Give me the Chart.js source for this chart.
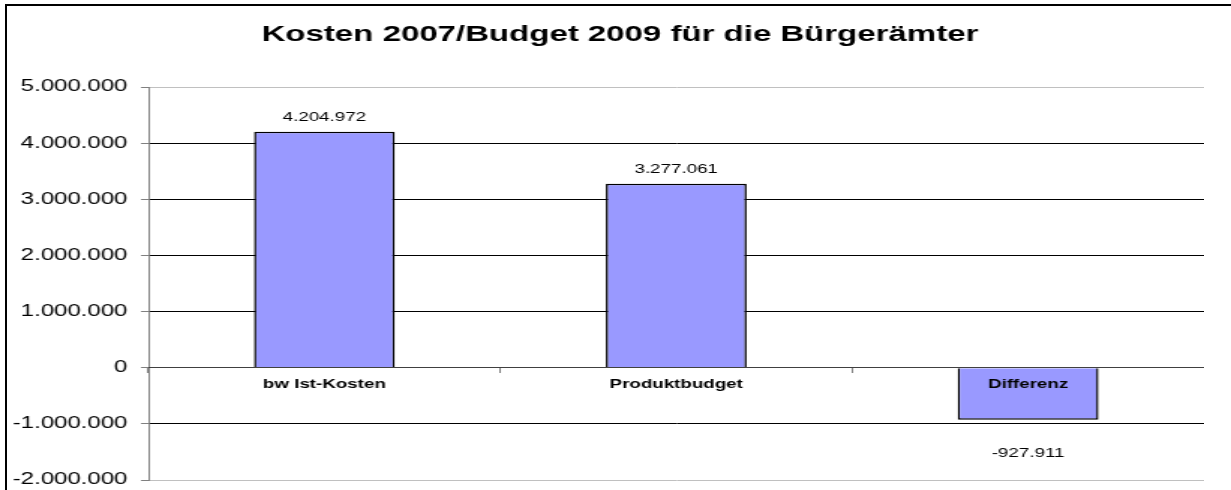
<!DOCTYPE html>
<html>
<head>
<meta charset="utf-8">
<title>Kosten 2007/Budget 2009</title>
<script src="https://cdn.jsdelivr.net/npm/chart.js@4"></script>
<style>
    body { margin: 0; background: #fff; }
    #wrap { position: relative; width: 1231px; height: 490px; overflow: hidden; }
    #frame {
        position: absolute; left: 5px; top: 4px; right: -10px; bottom: -10px;
        border-top: 2px solid #000; border-left: 2px solid #000;
        pointer-events: none;
    }
</style>
</head>
<body>
<div id="wrap">
    <!-- Zeichenfläche 803 breit, per CSS auf 1204 gestreckt wie im Original -->
    <canvas id="chart" width="803" height="490" style="display:block;width:1204px;height:490px"></canvas>
    <div id="frame"></div>
</div>
<script>
const titleText = 'Kosten 2007/Budget 2009 für die Bürgerämter';
const categories = ['bw Ist-Kosten', 'Produktbudget', 'Differenz'];
const values = [4204972, 3277061, -927911];
const yMin = -2000000;
const yMax = 5000000;
const yStep = 1000000;

// deutsche Tausenderpunkte
function fmt(v) {
    const s = Math.abs(Math.round(v)).toString().replace(/\B(?=(\d{3})+(?!\d))/g, '.');
    return (v < 0 ? '-' : '') + s;
}

const fontFamily = "'Liberation Sans', Arial, sans-serif";
Chart.defaults.font.family = fontFamily;
Chart.defaults.color = '#000';

// Werte über/unter den Balken
const valueLabels = {
    id: 'valueLabels',
    afterLayout(chart) {
        // Achsenbeschriftung links nicht abschneiden
        chart.scales.y.left = 0;
    },
    afterDatasetsDraw(chart) {
        const ctx = chart.ctx;
        const meta = chart.getDatasetMeta(0);
        ctx.save();
        ctx.font = '12.5px ' + fontFamily;
        ctx.fillStyle = '#000';
        ctx.textAlign = 'center';
        ctx.textBaseline = 'alphabetic';
        meta.data.forEach((bar, i) => {
            const v = values[i];
            const y = v >= 0 ? bar.y - 11 : bar.y + 37;
            ctx.fillText(fmt(v), bar.x, y);
        });
        ctx.restore();
    }
};

const ctx = document.getElementById('chart').getContext('2d');
const chart = new Chart(ctx, {
    type: 'bar',
    data: {
        labels: categories,
        datasets: [{
            data: values,
            backgroundColor: 'rgb(153, 153, 255)',
            borderColor: '#000',
            borderWidth: 1.5,
            barPercentage: 0.4,
            categoryPercentage: 1.0
        }]
    },
    options: {
        responsive: false,
        animation: false,
        devicePixelRatio: 1,
        layout: {
            padding: { left: 24, right: 0, top: 0, bottom: 10 }
        },
        plugins: {
            legend: { display: false },
            tooltip: { enabled: false },
            title: {
                display: true,
                text: titleText,
                color: '#000',
                font: { size: 22, weight: 'bold' },
                padding: { top: 21.5, bottom: 39.1 }
            }
        },
        scales: {
            x: {
                position: { y: 0 },
                z: 1,
                offset: true,
                afterFit(scale) {
                    scale.height = 0;
                    scale.paddingBottom = 0;
                    scale.paddingTop = 0;
                },
                grid: {
                    display: true,
                    drawOnChartArea: false,
                    offset: true,
                    tickLength: 5,
                    color: '#808080'
                },
                border: { display: true, color: '#404040', width: 1, z: 1 },
                ticks: {
                    z: 1,
                    padding: 4,
                    color: '#000',
                    font: { size: 12.5, weight: 'bold' },
                    maxRotation: 0
                }
            },
            y: {
                min: yMin,
                max: yMax,
                afterFit(scale) {
                    scale.width = 75;
                    scale.paddingBottom = 0;
                },
                grid: {
                    color: (c) => (c.tick && (c.tick.value === yMax || c.tick.value === yMin)) ? '#c0c0c0' : '#000',
                    tickColor: '#808080',
                    tickLength: 5,
                    lineWidth: 1
                },
                border: { display: true, color: '#808080', width: 1 },
                ticks: {
                    stepSize: yStep,
                    padding: 9,
                    color: '#000',
                    font: { size: 16 },
                    callback: (v) => fmt(v)
                }
            }
        }
    },
    plugins: [valueLabels]
});
</script>
</body>
</html>
